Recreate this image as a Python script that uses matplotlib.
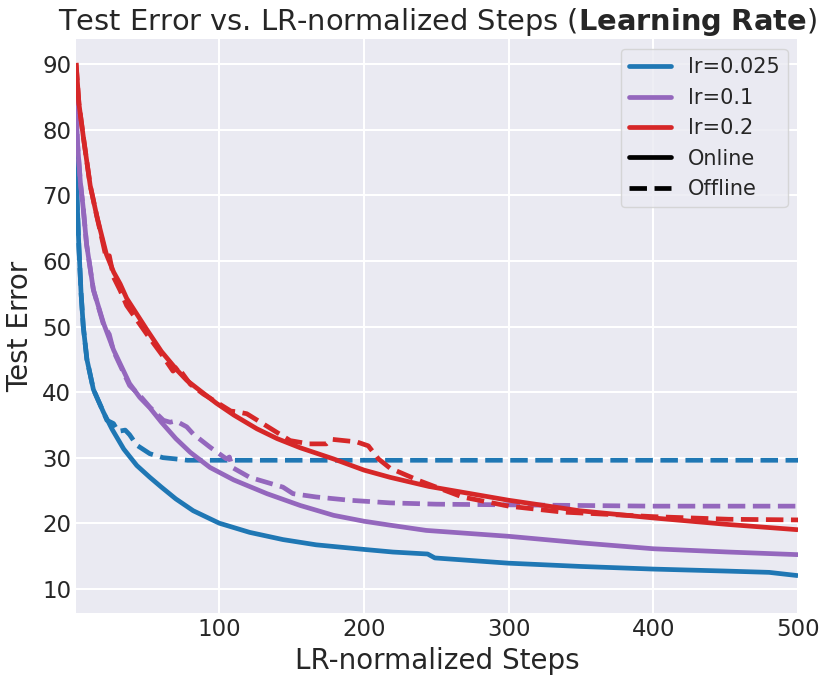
import matplotlib
matplotlib.use("Agg")
import matplotlib.pyplot as plt
from matplotlib.lines import Line2D

# values (LR-normalized steps vs test error)
x_lr025_on = [1, 1.6, 3, 4.5, 6, 8.5, 13, 20, 26, 34, 43, 52, 60, 70, 82, 100, 121, 144, 167,
              200, 220, 244, 249, 300, 350, 400, 450, 480, 500]
y_lr025_on = [78, 70, 62, 55, 50, 45, 40.4, 36.9, 34.3, 31.3, 28.8, 27.0, 25.5, 23.7, 21.9,
              20.0, 18.6, 17.5, 16.7, 16.0, 15.6, 15.3, 14.7, 13.9, 13.4, 13.0, 12.7, 12.5, 12.0]
x_lr025_off = [1, 1.6, 3, 4.5, 6, 8.5, 13, 20, 22.3, 26.9, 30, 35, 38, 43, 52, 61, 70, 78, 100,
               200, 300, 400, 500]
y_lr025_off = [78, 70, 62, 55, 50, 45, 40.4, 36.9, 35.7, 35.2, 34.0, 34.2, 33.5, 31.9, 30.6,
               30.0, 29.8, 29.6, 29.6, 29.6, 29.6, 29.6, 29.6]

x_lr01_on = [1, 1.3, 2, 4, 6, 8.3, 13, 20, 27, 38, 45, 52, 60, 70, 80, 93.6, 110, 133,
             156, 179, 200, 218, 243, 300, 350, 400, 452, 500]
y_lr01_on = [87, 82, 78, 72, 68, 62.5, 55.6, 50.5, 46.4, 41.3, 39.2, 37.6, 35.4, 32.9, 30.8,
             28.5, 26.6, 24.5, 22.7, 21.2, 20.3, 19.7, 18.9, 18.0, 17.0, 16.1, 15.6, 15.2]
x_lr01_off = [1, 1.3, 2, 4, 6, 8.3, 13, 20, 24, 27, 38, 45, 52, 61.4, 66, 70, 77.5, 82, 93.6,
              105, 107, 109, 121, 144, 151, 167, 190, 218, 250, 300, 400, 500]
y_lr01_off = [87, 82, 78, 72, 68, 62.5, 55.6, 50.3, 48.8, 46.2, 41.0, 39.5, 37.7, 35.7, 35.4,
              35.6, 34.7, 33.6, 31.6, 29.8, 30.1, 28.5, 27.0, 25.5, 24.5, 24.0, 23.5, 23.1,
              22.9, 22.8, 22.6, 22.6]

x_lr02_on = [1, 3, 6, 10.8, 15.4, 22, 27, 31.5, 36, 50, 60, 70.6, 77.5, 88, 98, 110, 126, 140,
             156, 179, 200, 218, 245, 300, 349, 400, 452, 500]
y_lr02_on = [90.2, 84, 79, 71.5, 66.8, 61.0, 58.3, 56.5, 54.3, 49.5, 46.2, 43.4, 41.8, 40.0,
             38.3, 36.5, 34.4, 32.9, 31.5, 29.8, 28.1, 27.0, 25.6, 23.5, 21.9, 20.8, 19.8, 19.0]
x_lr02_off = [1, 3, 6, 10.8, 15.4, 20, 22, 24, 27, 31.5, 36, 50, 60, 68, 72, 74, 80, 89, 100,
              108, 112, 119, 130, 149, 162, 174, 177.5, 195, 203, 210, 218, 238, 268, 300, 337,
              400, 452, 500]
y_lr02_off = [90.2, 84, 79, 71.5, 66.8, 62.3, 60.3, 60.8, 57.5, 55.5, 53.2, 48.8, 45.8, 43.2,
              43.9, 43.0, 41.2, 39.7, 38.2, 37.1, 37.0, 36.7, 35.2, 32.6, 32.1, 32.1, 32.8,
              32.4, 31.8, 29.8, 28.4, 26.5, 24.0, 22.6, 21.7, 21.0, 20.6, 20.5]

lr_labels = ["lr=0.025", "lr=0.1", "lr=0.2"]
lr_colors = ["#1f77b4", "#9467bd", "#d62728"]

plt.style.use("seaborn-v0_8-darkgrid")
plt.rcParams["font.family"] = ["DejaVu Sans"]

fig, ax = plt.subplots(figsize=(8.31, 6.83), dpi=100)
fig.subplots_adjust(left=0.0915, right=0.9603, top=0.9433, bottom=0.102)

lw = 3.4
runs = [(x_lr025_on, y_lr025_on, x_lr025_off, y_lr025_off),
        (x_lr01_on, y_lr01_on, x_lr01_off, y_lr01_off),
        (x_lr02_on, y_lr02_on, x_lr02_off, y_lr02_off)]
for (xo, yo, xf, yf), c in zip(runs, lr_colors):
    ax.plot(xo, yo, color=c, lw=lw, solid_capstyle="butt")
    ax.plot(xf, yf, color=c, lw=lw, ls="--")

ax.set_xlim(1, 500)
ax.set_ylim(6.25, 93.9)
ax.set_xticks([100, 200, 300, 400, 500])
ax.set_yticks(range(10, 91, 10))
ax.tick_params(labelsize=16.5, colors="#262626")
ax.grid(color="white", lw=1.5)

ax.set_xlabel("LR-normalized Steps", fontsize=20, color="#262626", labelpad=4)
ax.set_ylabel("Test Error", fontsize=20, color="#262626", labelpad=6)
ax.set_title("Test Error vs. LR-normalized Steps (" + r"$\bf{Learning\ Rate}$" + ")",
             fontsize=20.8, color="#262626")

handles = [Line2D([], [], color=c, lw=lw) for c in lr_colors]
handles += [Line2D([], [], color="black", lw=lw),
            Line2D([], [], color="black", lw=lw, ls="--")]
ax.legend(handles, lr_labels + ["Online", "Offline"], loc="upper right",
          fontsize=15, frameon=True, facecolor="#EAEAF2", edgecolor="#d0d0d0",
          framealpha=0.8, borderaxespad=0.5, labelspacing=0.5)

fig.savefig("out.png", dpi=100)
